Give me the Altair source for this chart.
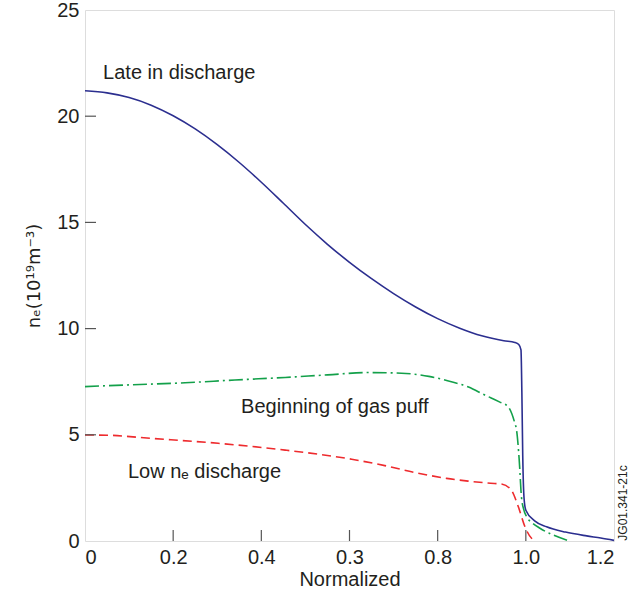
import altair as alt
import pandas as pd

# ---- data ----
blue_x = [0, 0.05, 0.1, 0.15, 0.2, 0.25, 0.3, 0.35, 0.4, 0.45, 0.5, 0.55, 0.6, 0.65, 0.7,
          0.75, 0.8, 0.85, 0.9, 0.95, 0.975, 0.984, 0.989, 0.991, 0.993, 0.996, 1.0, 1.02,
          1.047, 1.09, 1.138, 1.17, 1.2]
blue_y = [21.2, 21.1, 20.88, 20.52, 20.02, 19.40, 18.66, 17.82, 16.89, 15.90, 14.90, 13.97,
          13.12, 12.35, 11.65, 11.02, 10.47, 10.02, 9.66, 9.43, 9.35, 9.25, 9.0, 7.0, 4.0,
          2.0, 1.45, 0.95, 0.67, 0.42, 0.24, 0.14, 0.03]

green_x = [0, 0.1, 0.227, 0.34, 0.454, 0.55, 0.642, 0.718, 0.78, 0.831, 0.87, 0.907, 0.94,
           0.96, 0.975, 0.979, 0.985, 0.99, 0.995, 1.0016, 1.015, 1.032, 1.06, 1.092, 1.1]
green_y = [7.27, 7.35, 7.45, 7.58, 7.7, 7.82, 7.93, 7.9, 7.75, 7.5, 7.25, 6.87, 6.55,
           6.32, 5.55, 5.22, 3.81, 2.09, 1.5, 1.15, 0.85, 0.6, 0.3, 0.05, 0.0]

red_x = [0, 0.05, 0.151, 0.302, 0.454, 0.605, 0.68, 0.756, 0.82, 0.869, 0.92, 0.945, 0.967,
         0.983, 0.998, 1.013, 1.024]
red_y = [4.99, 4.98, 4.83, 4.6, 4.28, 3.85, 3.55, 3.19, 2.95, 2.82, 2.72, 2.68, 2.4,
         1.61, 0.67, 0.13, 0.03]

x_tick_values = [0, 0.2, 0.4, 0.6, 0.8, 1.0, 1.2]
x_tick_labels = ["0", "0.2", "0.4", "0.3", "0.8", "1.0", "1.2"]
y_tick_values = [0, 5, 10, 15, 20, 25]

ann_text = ["Late in discharge", "Beginning of gas puff", "Low nₑ discharge"]
ann_x = [0.041, 0.354, 0.0975]
ann_y = [22.03, 6.31, 3.26]

FONT = "Liberation Sans"
TXT = "#231f20"

xs = alt.Scale(domain=[0, 1.2], nice=False, zero=False)
ys = alt.Scale(domain=[0, 25], nice=False)

label_expr = f"{x_tick_labels}[indexof({x_tick_values}, datum.value)]"

blue = pd.DataFrame({"x": blue_x, "y": blue_y})
green = pd.DataFrame({"x": green_x, "y": green_y})
red = pd.DataFrame({"x": red_x, "y": red_y})

base_x = alt.X("x:Q", scale=xs, axis=alt.Axis(
    values=x_tick_values, labelExpr=label_expr, title="Normalized", grid=False,
    ticks=False, domain=False, labelFontSize=20, titleFontSize=20, labelPadding=6,
    titlePadding=2, labelColor=TXT, titleColor=TXT, titleFontWeight="normal",
    labelFont=FONT, titleFont=FONT))
base_y = alt.Y("y:Q", scale=ys, axis=alt.Axis(
    values=y_tick_values, title="nₑ(10¹⁹m⁻³)", grid=False, ticks=False, domain=False,
    labelFontSize=20, titleFontSize=18, labelPadding=6, titlePadding=13,
    labelColor=TXT, titleColor=TXT, titleFontWeight="normal", labelFont=FONT,
    titleFont="DejaVu Sans"))

l_blue = alt.Chart(blue).mark_line(color="#2b2e8f", strokeWidth=1.6,
                                   interpolate="monotone").encode(x=base_x, y=base_y)
l_green = alt.Chart(green).mark_line(color="#13a04a", strokeWidth=1.6, interpolate="monotone",
                                     strokeDash=[14, 4, 2, 4]).encode(x="x:Q", y="y:Q")
l_red = alt.Chart(red).mark_line(color="#ee2b2e", strokeWidth=1.6, interpolate="monotone",
                                 strokeDash=[9, 5]).encode(x="x:Q", y="y:Q")

# inward ticks
ytick_df = pd.DataFrame({"y": y_tick_values[1:-1]})
xtick_df = pd.DataFrame({"x": x_tick_values[1:-1]})
yt = alt.Chart(ytick_df).mark_rule(color="#555555", strokeWidth=1.2).encode(
    y="y:Q", x=alt.value(0), x2=alt.value(11))
xt = alt.Chart(xtick_df).mark_rule(color="#555555", strokeWidth=1.2).encode(
    x="x:Q", y=alt.value(531), y2=alt.value(520))

ann = pd.DataFrame({"t": ann_text, "x": ann_x, "y": ann_y})
texts = alt.Chart(ann).mark_text(align="left", baseline="middle", fontSize=20,
                                 font=FONT, color=TXT).encode(x="x:Q", y="y:Q", text="t:N")

tag = alt.Chart(pd.DataFrame({"t": ["JG01.341-21c"]})).mark_text(
    angle=270, align="center", baseline="middle", fontSize=12, font=FONT, color=TXT
).encode(x=alt.value(538), y=alt.value(493), text="t:N")

chart = alt.layer(l_blue, l_green, l_red, yt, xt, texts, tag).properties(
    width=529, height=531,
    autosize=alt.AutoSizeParams(type="none"),
    padding={"left": 85, "top": 10, "right": 24, "bottom": 53},
).configure_view(stroke="#555555", strokeWidth=1.3).configure(background="white")

chart.save("out.html", embed_options={"renderer": "svg", "actions": False})
